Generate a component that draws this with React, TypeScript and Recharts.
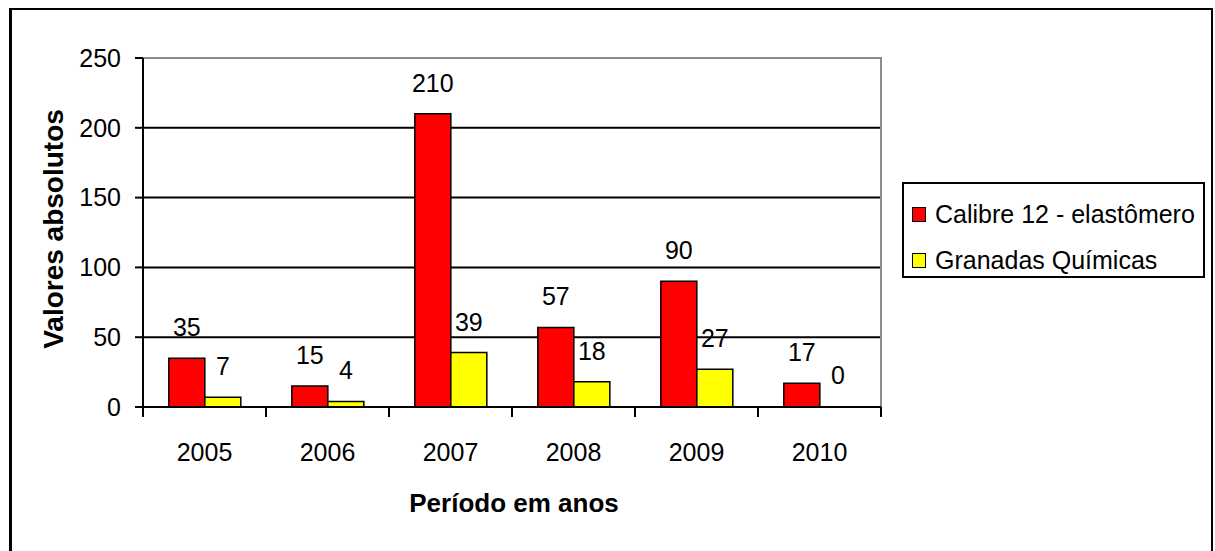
import React from 'react';
import {
  BarChart, Bar, XAxis, YAxis, CartesianGrid, LabelList, Legend, ReferenceArea, Label, Rectangle,
} from 'recharts';

const YEARS = ['2005', '2006', '2007', '2008', '2009', '2010'];
const CALIBRE = [35, 15, 210, 57, 90, 17];
const GRANADAS = [7, 4, 39, 18, 27, 0];
const Y_TICKS = [0, 50, 100, 150, 200, 250];
const SERIES = [
  { key: 'calibre', name: 'Calibre 12 - elastômero', color: '#FF0000' },
  { key: 'granadas', name: 'Granadas Químicas', color: '#FFFF00' },
];

const data = YEARS.map((year, i) => ({ year, calibre: CALIBRE[i], granadas: GRANADAS[i] }));

const FONT = '"Liberation Sans", Arial, Helvetica, sans-serif';
const W = 1215;
const H = 551;
const PLOT_LEFT = 143;
const PLOT_RIGHT = 881;
const BAND_HALF = (PLOT_RIGHT - PLOT_LEFT) / YEARS.length / 2;

const XTick = (props: any) => {
  const { x, y, payload, index } = props;
  return (
    <g>
      <line x1={x - BAND_HALF} y1={y} x2={x - BAND_HALF} y2={y + 10} stroke="#000" strokeWidth={2} />
      {index === YEARS.length - 1 && (
        <line x1={x + BAND_HALF} y1={y} x2={x + BAND_HALF} y2={y + 10} stroke="#000" strokeWidth={2} />
      )}
      <text x={x} y={y + 54} textAnchor="middle" fontSize={25} fontFamily={FONT} fill="#000">
        {payload.value}
      </text>
    </g>
  );
};

const YTitle = () => (
  <text
    transform="translate(63,229) rotate(-90)"
    textAnchor="middle"
    fontSize={28}
    fontWeight="bold"
    fontFamily={FONT}
    fill="#000"
  >
    Valores absolutos
  </text>
);

const XTitle = () => (
  <text x={514} y={512} textAnchor="middle" fontSize={26} fontWeight="bold" fontFamily={FONT} fill="#000">
    Período em anos
  </text>
);

const BarValueLabel = (props: any) => {
  const { x, y, width, value } = props;
  if (value === undefined || value === null) return null;
  return (
    <text x={x + width / 2} y={y - 22} textAnchor="middle" fontSize={25} fontFamily={FONT} fill="#000">
      {String(value)}
    </text>
  );
};

const BarShape = (props: any) => {
  if (props.value === 0) return <g />;
  return <Rectangle {...props} />;
};

const LegendBox = () => (
  <div
    style={{
      boxSizing: 'border-box',
      width: 303,
      height: 96,
      border: '2px solid #000',
      background: '#fff',
      fontFamily: FONT,
      fontSize: 25,
      color: '#000',
      paddingTop: 7,
    }}
  >
    {SERIES.map((s) => (
      <div key={s.key} style={{ display: 'flex', alignItems: 'center', height: 46, paddingLeft: 8 }}>
        <span
          style={{
            display: 'inline-block',
            width: 14,
            height: 15,
            background: s.color,
            border: '1.5px solid #000',
            boxSizing: 'border-box',
            marginRight: 9,
          }}
        />
        <span style={{ whiteSpace: 'nowrap', lineHeight: '25px' }}>{s.name}</span>
      </div>
    ))}
  </div>
);

export default function App() {
  return (
    <div style={{ position: 'absolute', left: 0, top: 0, width: W, height: H, background: '#fff', overflow: 'hidden' }}>
      <div
        style={{
          position: 'absolute',
          left: 9,
          top: 8,
          width: 1204,
          height: 560,
          border: '2px solid #000',
          borderLeftWidth: 3,
          boxSizing: 'border-box',
        }}
      />
      <div style={{ position: 'absolute', left: 0, top: 0 }}>
        <BarChart
          width={W}
          height={H}
          data={data}
          margin={{ top: 58, right: W - PLOT_RIGHT, bottom: 104, left: 0 }}
          barCategoryGap="21%"
          barGap={0}
        >
          <CartesianGrid vertical={false} stroke="#000" strokeWidth={2} />
          <ReferenceArea y1={0} y2={250} fill="none" stroke="#8c8c8c" strokeWidth={2} ifOverflow="visible" />
          <XAxis
            dataKey="year"
            height={40}
            interval={0}
            tickLine={false}
            tickSize={0}
            tickMargin={0}
            axisLine={{ stroke: '#000', strokeWidth: 2 }}
            tick={<XTick />}
            label={<Label content={<XTitle />} />}
          />
          <YAxis
            width={PLOT_LEFT}
            domain={[0, 250]}
            ticks={Y_TICKS}
            interval={0}
            tickSize={8}
            tickMargin={14}
            axisLine={{ stroke: '#000', strokeWidth: 2 }}
            tickLine={{ stroke: '#000', strokeWidth: 2 }}
            tick={{ fill: '#000', fontSize: 25, fontFamily: FONT }}
            label={<Label content={<YTitle />} />}
          />
          <Legend
            layout="vertical"
            align="center"
            verticalAlign="middle"
            content={<LegendBox />}
            wrapperStyle={{ position: 'absolute', left: 902, top: 182, width: 303, height: 96 }}
          />
          {SERIES.map((s) => (
            <Bar
              key={s.key}
              dataKey={s.key}
              name={s.name}
              fill={s.color}
              stroke="#000"
              strokeWidth={1.5}
              minPointSize={1}
              shape={<BarShape />}
              isAnimationActive={false}
            >
              <LabelList dataKey={s.key} content={<BarValueLabel />} />
            </Bar>
          ))}
        </BarChart>
      </div>
    </div>
  );
}
